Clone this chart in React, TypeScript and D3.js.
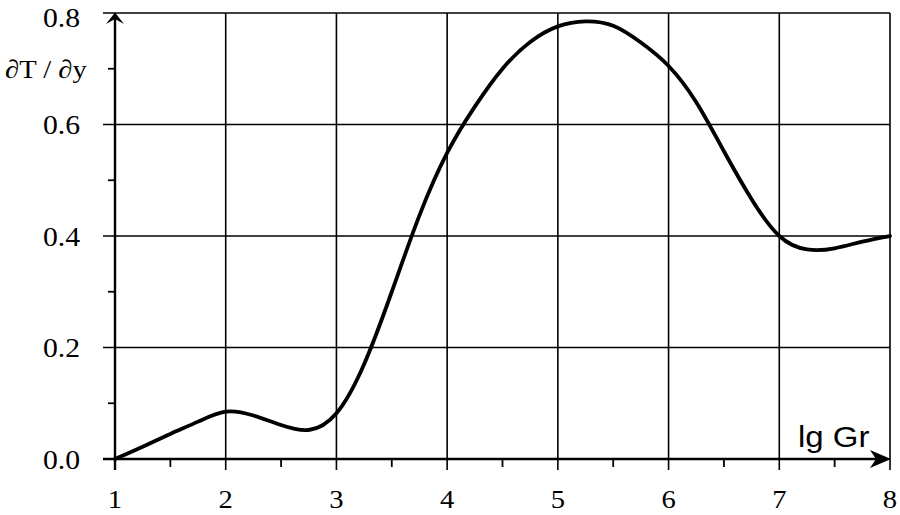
import React from "react";
import * as d3 from "d3";

const lgGr = [1.0, 1.25, 1.5, 1.75, 2.0, 2.25, 2.5, 2.75, 3.0, 3.25, 3.5, 3.75, 4.0, 4.25, 4.5, 4.75, 5.0, 5.25, 5.5, 5.75, 6.0, 6.25, 6.5, 6.75, 7.0, 7.25, 7.5, 7.75, 8.0];
const dTdy = [0.0, 0.022, 0.045, 0.067, 0.085, 0.078, 0.061, 0.052, 0.082, 0.17, 0.3, 0.437, 0.549, 0.632, 0.7, 0.748, 0.776, 0.785, 0.777, 0.747, 0.705, 0.64, 0.552, 0.466, 0.4, 0.376, 0.378, 0.39, 0.4];
const xTicks = [1, 2, 3, 4, 5, 6, 7, 8];
const xMinor = [1.5, 2.5, 3.5, 4.5, 5.5, 6.5, 7.5];
const yTicks = [0.0, 0.2, 0.4, 0.6, 0.8];
const yMinor = [0.1, 0.3, 0.5, 0.7];
const yLabels = ["0.0", "0.2", "0.4", "0.6", "0.8"];

export default function App() {
  const W = 900, H = 515;
  const x = d3.scaleLinear().domain([1, 8]).range([115, 890]);
  const y = d3.scaleLinear().domain([0, 0.8]).range([459, 13]);
  const pts: [number, number][] = lgGr.map((g, i) => [x(g), y(dTdy[i])]);
  const line = d3.line().curve(d3.curveNatural);
  const path = line(pts) || "";
  const serif = "'Liberation Serif', 'Times New Roman', serif";
  const sx = 1.1;
  return (
    <svg width={W} height={H} style={{ position: "absolute", left: 0, top: 0, background: "#fff" }}>
      <rect x={0} y={0} width={W} height={H} fill="#fff" />
      {/* horizontal grid + major y ticks */}
      {yTicks.map((t) => (
        <line key={"hy" + t} x1={x(1) - 12} x2={x(8)} y1={y(t)} y2={y(t)} stroke="#000" strokeWidth={1.6} />
      ))}
      {yMinor.map((t) => (
        <line key={"my" + t} x1={x(1) - 7} x2={x(1)} y1={y(t)} y2={y(t)} stroke="#000" strokeWidth={1.8} />
      ))}
      {/* vertical grid + major x ticks */}
      {xTicks.map((t) => (
        <line key={"vx" + t} x1={x(t)} x2={x(t)} y1={y(0.8)} y2={y(0) + 11} stroke="#000" strokeWidth={1.6} />
      ))}
      {xMinor.map((t) => (
        <line key={"mx" + t} x1={x(t)} x2={x(t)} y1={y(0)} y2={y(0) + 8} stroke="#000" strokeWidth={1.8} />
      ))}
      {/* axes */}
      <line x1={x(1)} x2={x(1)} y1={y(0) + 11} y2={y(0.8) + 4} stroke="#000" strokeWidth={2.4} />
      <line x1={x(1) - 12} x2={x(8) - 4} y1={y(0)} y2={y(0)} stroke="#000" strokeWidth={2.4} />
      {/* arrows */}
      <path
        d={`M${x(1)},${y(0.8) - 0.5} L${x(1) + 9},${y(0.8) + 11} L${x(1)},${y(0.8) + 6} L${x(1) - 9},${y(0.8) + 11} Z`}
        fill="#000"
      />
      <path
        d={`M${x(8) + 1},${y(0)} L${x(8) - 20},${y(0) - 9} L${x(8) - 14},${y(0)} L${x(8) - 20},${y(0) + 9} Z`}
        fill="#000"
      />
      {/* curve */}
      <path d={path} fill="none" stroke="#000" strokeWidth={3.8} strokeLinejoin="round" strokeLinecap="round" />
      {/* y tick labels */}
      {yTicks.map((t, i) => (
        <g key={"yl" + t} transform={`translate(80,${Math.max(y(t) + 9.5, 27)}) scale(${sx},1)`}>
          <text x={0} y={0} textAnchor="end" fontFamily={serif} fontSize={27} fill="#000">
            {yLabels[i]}
          </text>
        </g>
      ))}
      {/* x tick labels */}
      {xTicks.map((t) => (
        <g key={"xl" + t} transform={`translate(${x(t)},508) scale(${sx},1)`}>
          <text x={0} y={0} textAnchor="middle" fontFamily={serif} fontSize={26} fill="#000">
            {String(t)}
          </text>
        </g>
      ))}
      {/* y axis title */}
      <g transform={`translate(5,78) scale(${sx},1)`}>
        <text x={0} y={0} fontFamily={serif} fontSize={26} fill="#000">
          ∂T / ∂y
        </text>
      </g>
      {/* x axis title */}
      <g transform={`translate(798,447) scale(1.1,1)`}>
        <text x={0} y={0} fontFamily="'Liberation Sans', Arial, sans-serif" fontSize={30} fill="#000">
          lg Gr
        </text>
      </g>
    </svg>
  );
}
